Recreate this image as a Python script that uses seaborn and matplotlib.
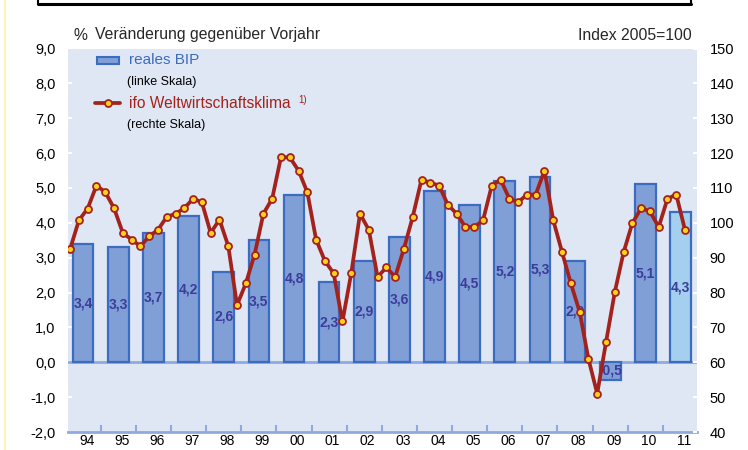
import numpy as np
import pandas as pd
import matplotlib
matplotlib.use("Agg")
import matplotlib.pyplot as plt
from matplotlib.lines import Line2D
from matplotlib.patches import Rectangle
import seaborn as sns

# ---------------- data ----------------
years = ["94", "95", "96", "97", "98", "99", "00", "01", "02", "03",
         "04", "05", "06", "07", "08", "09", "10", "11"]
bip = [3.4, 3.3, 3.7, 4.2, 2.6, 3.5, 4.8, 2.3, 2.9, 3.6,
       4.9, 4.5, 5.2, 5.3, 2.9, -0.5, 5.1, 4.3]
bip_labels = ["3,4", "3,3", "3,7", "4,2", "2,6", "3,5", "4,8", "2,3", "2,9", "3,6",
              "4,9", "4,5", "5,2", "5,3", "2,9", "-0,5", "5,1", "4,3"]
# ifo world economic climate, quarterly Jan 1994 .. Jul 2011 (index 2005=100)
ifo = [92.5, 100.7, 104.1, 110.7, 108.8, 104.2, 97.1, 95.2,
       93.3, 96.1, 98.0, 101.7, 102.6, 104.2, 106.9, 105.9,
       97.1, 100.9, 93.4, 76.4, 82.6, 90.9, 102.6, 106.9,
       118.8, 118.8, 115.0, 108.8, 95.2, 89.1, 85.5, 71.7,
       85.5, 102.6, 98.0, 84.5, 87.2, 84.5, 92.6, 101.7,
       112.4, 111.5, 110.7, 105.2, 102.6, 98.8, 98.8, 100.7,
       110.7, 112.4, 106.9, 105.9, 108.1, 108.1, 115.0, 100.7,
       91.6, 82.6, 74.5, 61.0, 51.0, 65.7, 80.1, 91.5,
       99.9, 104.2, 103.3, 98.8, 106.9, 108.1, 97.9]
left_ticks = [9, 8, 7, 6, 5, 4, 3, 2, 1, 0, -1, -2]
left_ticklabels = ["9,0", "8,0", "7,0", "6,0", "5,0", "4,0", "3,0", "2,0",
                   "1,0", "0,0", "-1,0", "-2,0"]
right_ticks = [150, 140, 130, 120, 110, 100, 90, 80, 70, 60, 50, 40]

# ---------------- style ----------------
sns.set_theme(style="white")
plt.rcParams["font.family"] = ["Liberation Sans", "DejaVu Sans"]

BG = "#DFE6F4"
BAR = "#809FD6"
BAR_LAST = "#A4CFEE"
BAR_EDGE = "#3B6CC0"
LINE = "#A3231C"
MARK = "#FFD21A"
LBL = "#3C3C9C"
AXBLUE = "#8FAADC"

W, H = 748, 450
fig = plt.figure(figsize=(W / 100, H / 100), dpi=100)
fig.patch.set_facecolor("white")

L, R, T, B = 68, 697, 48.5, 432
ax = fig.add_axes([L / W, 1 - B / H, (R - L) / W, (B - T) / H])
ax.set_facecolor(BG)

df = pd.DataFrame({"year": years, "bip": bip})
palette = {y: (BAR_LAST if i == len(years) - 1 else BAR) for i, y in enumerate(years)}
sns.barplot(data=df, x="year", y="bip", hue="year", palette=palette, order=years,
            hue_order=years, width=0.586, edgecolor=BAR_EDGE, linewidth=1.6,
            errorbar=None, legend=False, saturation=1, ax=ax, zorder=2)
for cont, lab in zip(ax.containers, bip_labels):
    ax.bar_label(cont, labels=[lab], label_type="center", color=LBL,
                 fontweight="bold", fontsize=10, zorder=4)

ax.axhline(0, color=AXBLUE, lw=2, zorder=1.5)
ax.set_ylim(-2, 9)
ax.set_yticks(left_ticks)
ax.set_yticklabels(left_ticklabels)
ax.tick_params(axis="y", direction="in", length=3, width=1.5, color="white",
               pad=9, labelsize=10.5, labelcolor="black", left=True)
for s in ["top", "right", "left"]:
    ax.spines[s].set_visible(False)
ax.spines["bottom"].set_color(AXBLUE)
ax.spines["bottom"].set_linewidth(2)
ax.set_xlabel("")
ax.set_ylabel("")

# line on right scale
ax2 = ax.twinx()
xq = np.arange(len(ifo)) * 0.25 - 0.37
sns.lineplot(x=xq, y=ifo, ax=ax2, color=LINE, lw=2.7, marker="o", markersize=5,
             markerfacecolor=MARK, markeredgecolor=LINE, markeredgewidth=1.3, zorder=5)
ax2.set_ylim(40, 150)
ax2.set_yticks(right_ticks)
ax2.set_yticklabels([str(v) for v in right_ticks])
ax2.tick_params(axis="y", direction="in", length=3, width=1.5, color="white",
                pad=9, labelsize=10.5, labelcolor="black", right=True)
for s in ax2.spines.values():
    s.set_visible(False)
ax2.set_ylabel("")

ax.set_xlim(-0.43, 17.47)
ax.set_xticks(np.arange(len(years)) + 0.1)
ax.set_xticklabels(years)
ax.set_xticks(np.arange(len(years) - 1) + 0.5, minor=True)
ax.tick_params(axis="x", which="major", length=0, pad=1.5, labelsize=10, labelcolor="black")
ax.tick_params(axis="x", which="minor", direction="in", length=5, width=1.5,
               color=AXBLUE, bottom=True)

# header texts
fig.text(73 / W, 1 - 35 / H, "%", fontsize=11.3, va="center", ha="left")
fig.text(95 / W, 1 - 35 / H, "Veränderung gegenüber Vorjahr", fontsize=11.3,
         va="center", ha="left")
fig.text(692 / W, 1 - 35 / H, "Index 2005=100", fontsize=11.3, va="center", ha="right")

# legend (manual)
fig.add_artist(Rectangle((97 / W, 1 - 63.5 / H), 22 / W, 7 / H, transform=fig.transFigure,
                         facecolor=BAR, edgecolor=BAR_EDGE, lw=1.5))
fig.text(129 / W, 1 - 60 / H, "reales BIP", fontsize=11, color="#3B6CC0",
         va="center", ha="left")
fig.text(127 / W, 1 - 82 / H, "(linke Skala)", fontsize=9, color="black",
         va="center", ha="left")
fig.add_artist(Line2D([95 / W, 120 / W], [1 - 103 / H] * 2, transform=fig.transFigure,
                      color=LINE, lw=2.7))
fig.add_artist(Line2D([107.5 / W], [1 - 103 / H], transform=fig.transFigure,
                      marker="o", markersize=5, markerfacecolor=MARK,
                      markeredgecolor=LINE, markeredgewidth=1.3, lw=0))
fig.text(129 / W, 1 - 103 / H, "ifo Weltwirtschaftsklima", fontsize=11.2, color=LINE,
         va="center", ha="left")
fig.text(298 / W, 1 - 100 / H, "1)", fontsize=7, color=LINE, va="center", ha="left")
fig.text(127 / W, 1 - 125 / H, "(rechte Skala)", fontsize=9, color="black",
         va="center", ha="left")

# decorations: box edge at top and yellow border on the left
fig.add_artist(Line2D([38 / W, 691 / W], [1 - 4 / H] * 2, transform=fig.transFigure,
                      color="black", lw=2.2))
fig.add_artist(Line2D([38 / W] * 2, [1 - 4 / H, 1], transform=fig.transFigure,
                      color="black", lw=1.5))
fig.add_artist(Line2D([691 / W] * 2, [1 - 4 / H, 1], transform=fig.transFigure,
                      color="black", lw=1.5))
fig.add_artist(Line2D([4.5 / W] * 2, [0, 1], transform=fig.transFigure,
                      color="#FFF3B8", lw=1.5))

fig.savefig("out.png", dpi=100)
